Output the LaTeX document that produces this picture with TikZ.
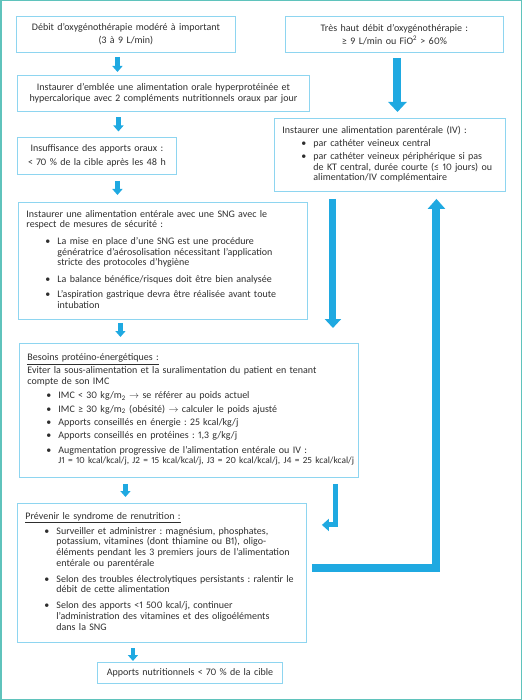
\documentclass[tikz,border=0pt]{standalone}
\usepackage{fontspec}
\setmainfont{Carlito}[Numbers=Proportional]
\usetikzlibrary{arrows.meta}
\frenchspacing

\definecolor{cyanfleche}{HTML}{1FA9E1}
\definecolor{bordboite}{HTML}{8ED5F0}
\definecolor{cadre}{HTML}{5FC3BC}
\definecolor{texte}{HTML}{2E2E2E}

% bullet with hanging lines
\newcommand{\puce}[2][3.5pt]{\par\vspace{#1}\noindent\hspace*{19pt}\makebox[12pt][l]{\textbullet}\begin{tabular}[t]{@{}l@{}}#2\end{tabular}}

\begin{document}
\begin{tikzpicture}[x=1pt,y=-1pt,
    boite/.style={draw=bordboite,line width=0.9pt,anchor=north west,inner xsep=8pt,inner ysep=0pt,
        text=texte,font=\fontsize{10}{10.7}\selectfont},
    fleche/.style={draw=cyanfleche,line width=4.5pt,-{Triangle[width=10pt,length=6pt]}},
    grosse/.style={draw=cyanfleche,line width=8pt,line join=miter,-{Triangle[width=18pt,length=10pt]}}]
    \useasboundingbox (0,0) rectangle (522,700);
    \draw[cadre,line width=1.5pt] (0.75,0.75) rectangle (521.25,699.25);

    % Boxes:
    \node[boite,text width=203pt,minimum height=36pt,align=center,font=\fontsize{10}{13}\selectfont] (a) at (16,16)
        {Débit d’oxygénothérapie modéré à important\\(3 à 9 L/min)};
    \node[boite,text width=202pt,minimum height=36pt,align=center,font=\fontsize{10}{13}\selectfont] (b) at (285,16)
        {Très haut débit d’oxygénothérapie :\\≥ 9 L/min ou FiO\textsuperscript{2} > 60\%};
    \node[boite,text width=276pt,minimum height=36pt,align=center,font=\fontsize{10}{10.5}\selectfont] (c) at (17,75)
        {Instaurer d’emblée une alimentation orale hyperprotéinée et\\hypercalorique avec 2 compléments nutritionnels oraux par jour};
    \node[boite,text width=143pt,minimum height=37pt,align=center,font=\fontsize{10}{13.3}\selectfont] (d) at (17,137)
        {Insuffisance des apports oraux :\\< 70 \% de la cible après les 48 h};
    \node[boite,text width=215pt,minimum height=73pt,align=left] (e) at (274,118)
        {Instaurer une alimentation parentérale (IV) :
        \puce[2.5pt]{par cathéter veineux central}
        \puce[2.5pt]{par cathéter veineux périphérique si pas\\de KT central, durée courte (≤ 10 jours) ou\\alimentation/IV complémentaire}};
    \node[boite,text width=273pt,minimum height=117pt,align=left] (f) at (18,202)
        {Instaurer une alimentation entérale avec une SNG avec le\\respect de mesures de sécurité :
        \puce[6pt]{La mise en place d’une SNG est une procédure\\génératrice d’aérosolisation nécessitant l’application\\stricte des protocoles d’hygiène}
        \puce[5pt]{La balance bénéfice/risques doit être bien analysée}
        \puce[4.5pt]{L’aspiration gastrique devra être réalisée avant toute\\intubation}};
    \node[boite,text width=323pt,minimum height=134pt,align=left] (g) at (19,343)
        {\underline{Besoins protéino-énergétiques :}\\[2.3pt]
        Eviter la sous-alimentation et la suralimentation du patient en tenant\\compte de son IMC
        \puce{IMC < 30 kg/m\textsubscript{2} $\rightarrow$ se référer au poids actuel}
        \puce[3pt]{IMC ≥ 30 kg/m\textsubscript{2} (obésité) $\rightarrow$ calculer le poids ajusté}
        \puce[2.6pt]{Apports conseillés en énergie : 25 kcal/kg/j}
        \puce[2.6pt]{Apports conseillés en protéines : 1,3 g/kg/j}
        \puce{Augmentation progressive de l’alimentation entérale ou IV :\\{\fontsize{9.4}{10.7}\selectfont J1 = 10 kcal/kcal/j, J2 = 15 kcal/kcal/j, J3 = 20 kcal/kcal/j, J4 = 25 kcal/kcal/j}}};
    \node[boite,text width=273pt,minimum height=139pt,align=left] (h) at (17,503)
        {\underline{Prévenir le syndrome de renutrition :}
        \puce[2.7pt]{Surveiller et administrer : magnésium, phosphates,\\potassium, vitamines (dont thiamine ou B1), oligo-\\éléments pendant les 3 premiers jours de l’alimentation\\entérale ou parentérale}
        \puce[4.3pt]{Selon des troubles électrolytiques persistants : ralentir le\\débit de cette alimentation}
        \puce[4.3pt]{Selon des apports <1 500 kcal/j, continuer\\l’administration des vitamines et des oligoéléments\\dans la SNG}};
    \node[boite,text width=169pt,minimum height=21pt,align=center] (i) at (97,662)
        {Apports nutritionnels < 70 \% de la cible};

    % Small arrows down the left column:
    \draw[fleche] ([xshift=-8.5pt,yshift=-4pt]a.south) -- ([xshift=-46pt,yshift=3pt]c.north);
    \draw[fleche] ([xshift=-45pt,yshift=-5.5pt]c.south) -- ([xshift=21.5pt,yshift=5.5pt]d.north);
    \draw[fleche] ([xshift=20.5pt,yshift=-6pt]d.south) -- ([xshift=-45.5pt,yshift=7pt]f.north);
    \draw[fleche] ([xshift=-42.5pt,yshift=-3pt]f.south) -- ([xshift=-68.5pt,yshift=6pt]g.north);
    \draw[fleche] ([xshift=-63.5pt,yshift=-6pt]g.south) -- ([xshift=-36.5pt,yshift=6pt]h.north);
    \draw[fleche] ([xshift=-29pt,yshift=-5.5pt]h.south) -- ([xshift=-57pt,yshift=1pt]i.north);

    % Right column:
    \draw[grosse] ([xshift=3pt,yshift=-5pt]b.south) -- ([xshift=7.5pt,yshift=6pt]e.north);
    \draw[grosse,line width=7pt,-{Triangle[width=16pt,length=9pt]}]
        ([xshift=-57pt,yshift=-7pt]e.south) -- ([xshift=144pt,yshift=15pt]g.north);
    \draw[fleche,line width=5pt,line join=miter,-{Triangle[width=12pt,length=7pt]}]
        ([xshift=146.5pt,yshift=-6pt]g.south) |- ([xshift=15pt,yshift=48pt]h.east);
    % back up to the parenteral box
    \draw[grosse,-{Triangle[width=17pt,length=10pt]}]
        ([xshift=5pt,yshift=4.5pt]h.east) -| ([xshift=46.5pt,yshift=-7pt]e.south);
\end{tikzpicture}
\end{document}
